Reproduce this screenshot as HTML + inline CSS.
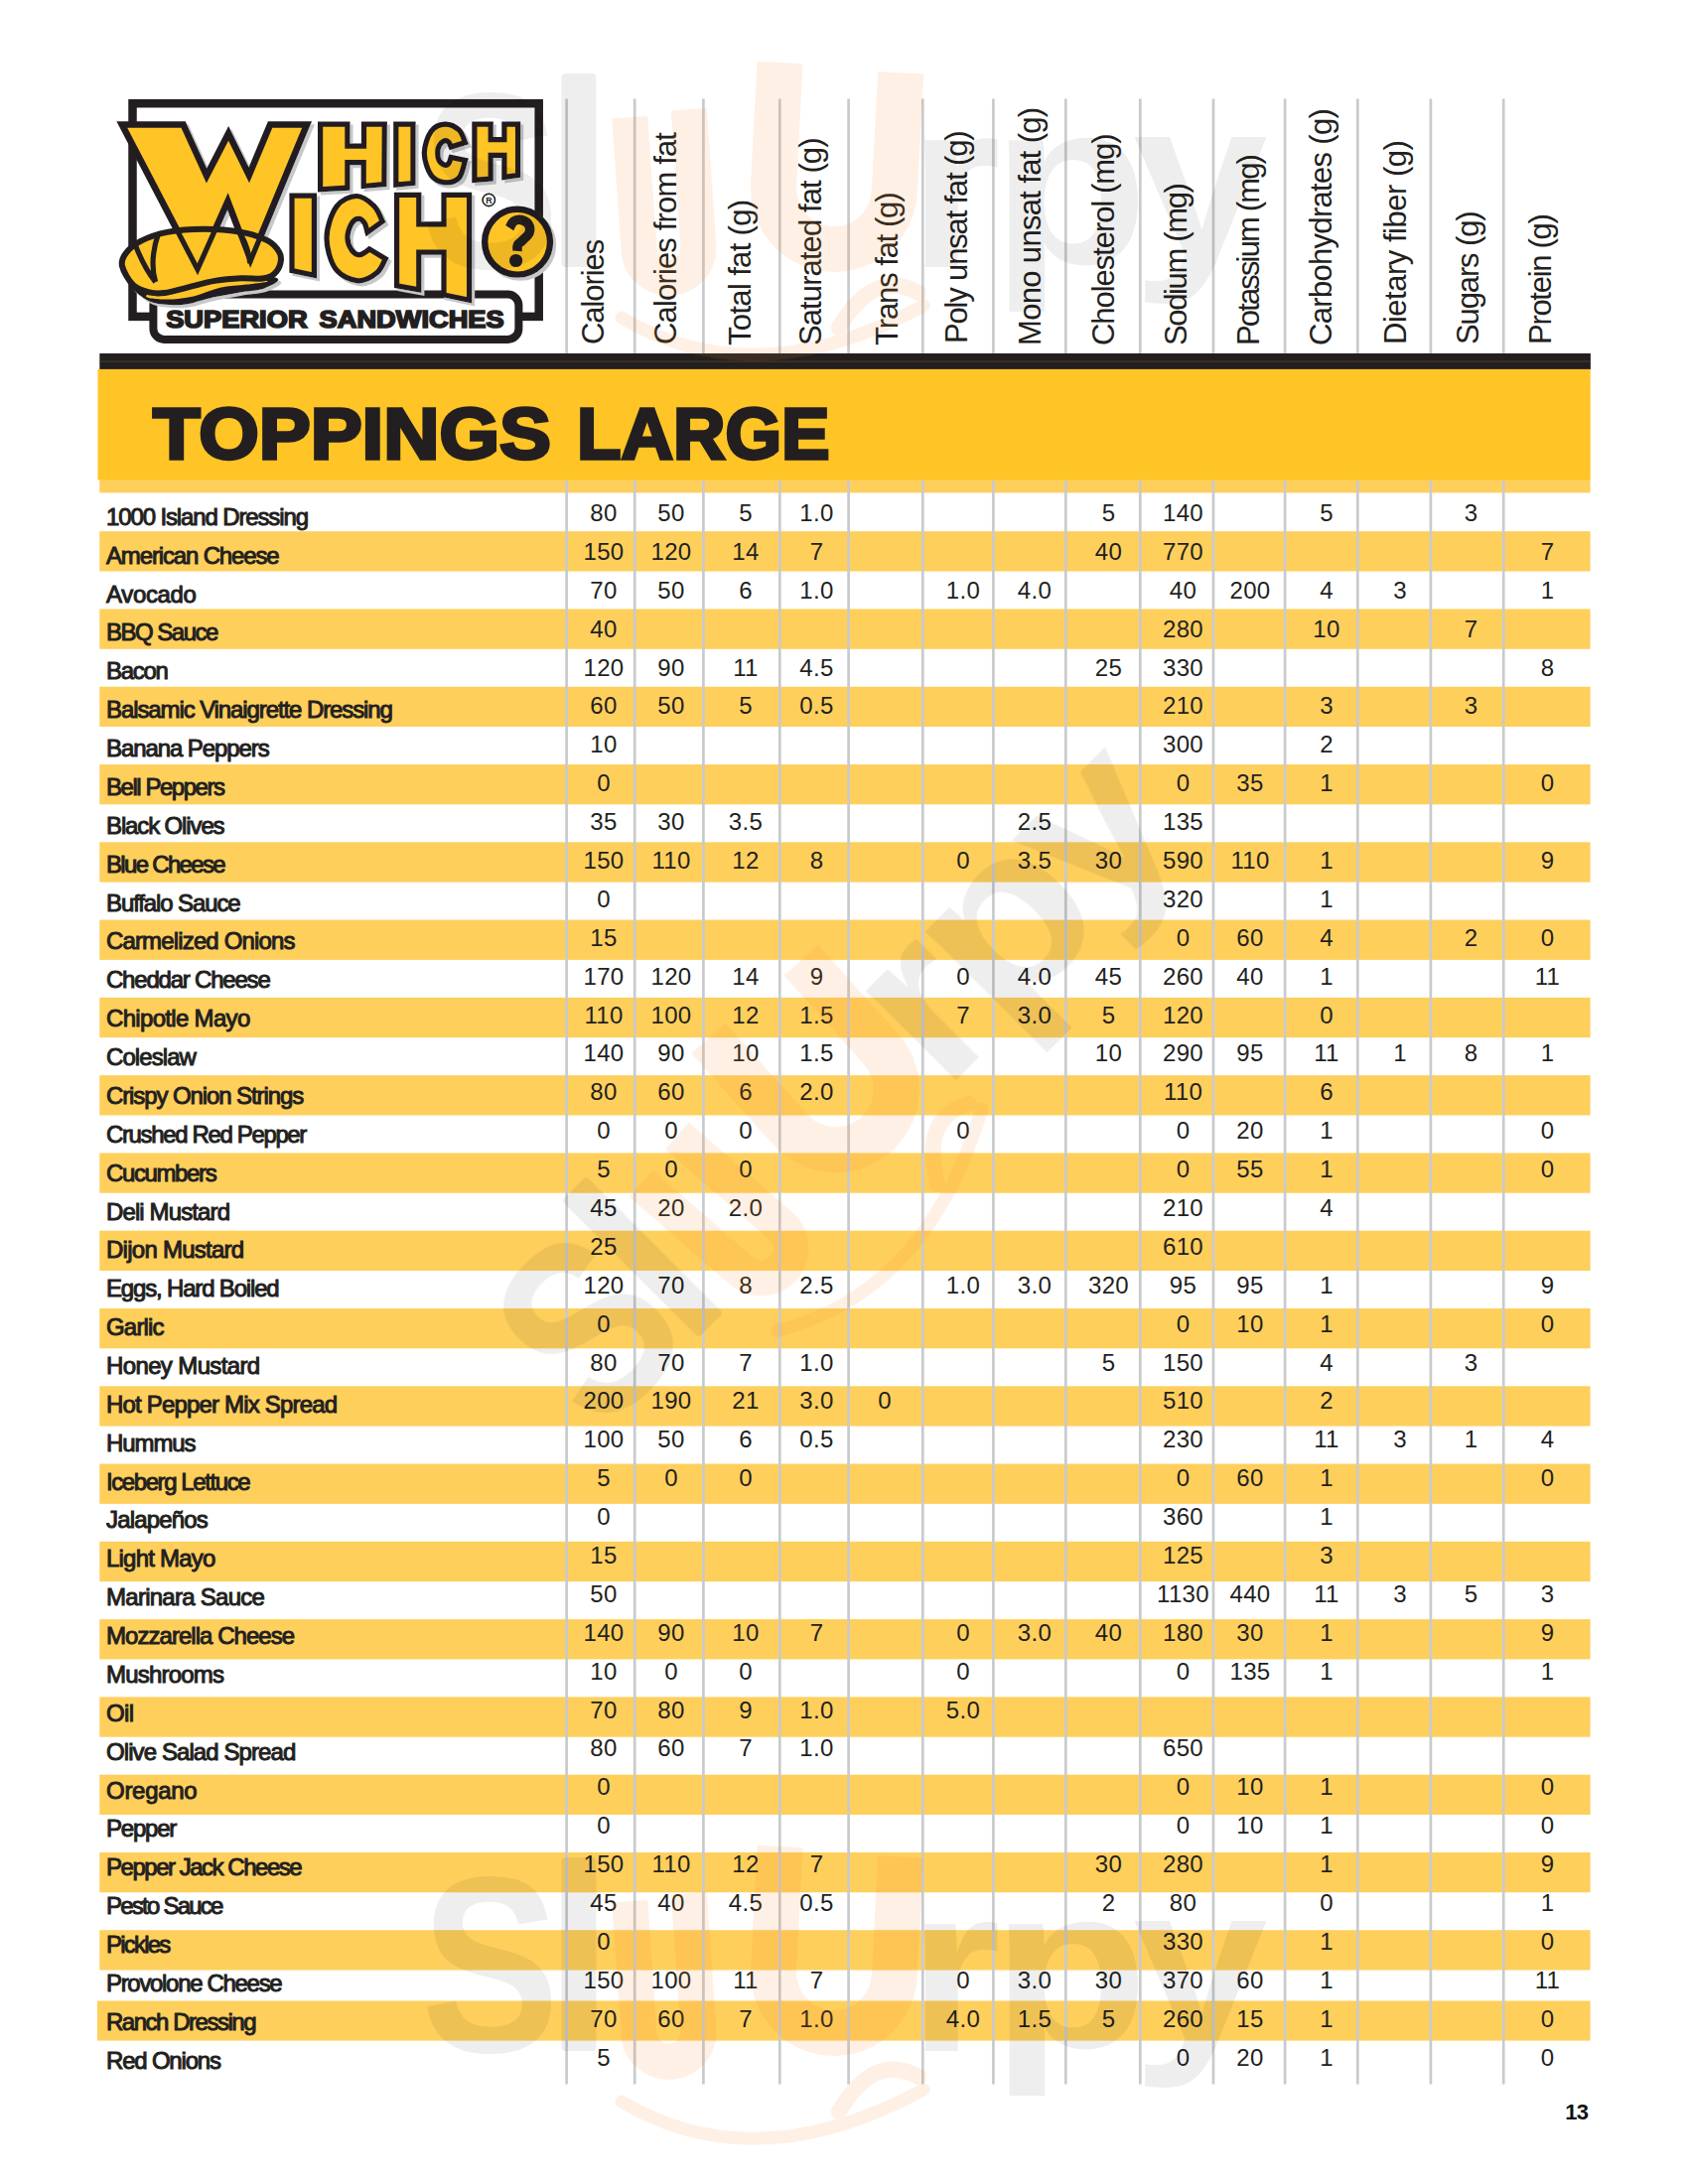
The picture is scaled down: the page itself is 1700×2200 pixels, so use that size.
<!DOCTYPE html><html><head><meta charset='utf-8'><title>Toppings Large</title><style>
html,body{margin:0;padding:0;background:#fff}
body{width:1700px;height:2200px;position:relative;overflow:hidden;font-family:'Liberation Sans',sans-serif;color:#231f20}
.a{position:absolute}
.b{position:absolute;background:#ffcf5c;left:100.3px;width:1501.2px;height:40.3px}
.l{position:absolute;background:#c9cacc;width:3px;top:99.6px;height:1999.9px}
.n{position:absolute;left:107px;white-space:nowrap;font-size:24px;line-height:30px;height:30px;-webkit-text-stroke:1px #231f20}
.v{position:absolute;white-space:nowrap;font-size:24px;line-height:30px;height:30px;width:80px;text-align:center;letter-spacing:0.3px}
.h{position:absolute;white-space:nowrap;font-size:31px;line-height:30px;height:30px;transform-origin:0 0;transform:rotate(-90deg)}
</style></head><body>
<svg class=a style='left:0;top:0' width='1700' height='2200' viewBox='0 0 1700 2200'>
<g fill='#ffcf5c'>
<rect x='100.3' y='535.20' width='1501.3' height='40.3'/>
<rect x='100.3' y='613.48' width='1501.3' height='40.3'/>
<rect x='100.3' y='691.76' width='1501.3' height='40.3'/>
<rect x='100.3' y='770.04' width='1501.3' height='40.3'/>
<rect x='100.3' y='848.32' width='1501.3' height='40.3'/>
<rect x='100.3' y='926.60' width='1501.3' height='40.3'/>
<rect x='100.3' y='1004.88' width='1501.3' height='40.3'/>
<rect x='100.3' y='1083.16' width='1501.3' height='40.3'/>
<rect x='100.3' y='1161.44' width='1501.3' height='40.3'/>
<rect x='100.3' y='1239.72' width='1501.3' height='40.3'/>
<rect x='100.3' y='1318.00' width='1501.3' height='40.3'/>
<rect x='100.3' y='1396.28' width='1501.3' height='40.3'/>
<rect x='100.3' y='1474.56' width='1501.3' height='40.3'/>
<rect x='100.3' y='1552.84' width='1501.3' height='40.3'/>
<rect x='100.3' y='1631.12' width='1501.3' height='40.3'/>
<rect x='100.3' y='1709.40' width='1501.3' height='40.3'/>
<rect x='100.3' y='1787.68' width='1501.3' height='40.3'/>
<rect x='100.3' y='1865.96' width='1501.3' height='40.3'/>
<rect x='100.3' y='1944.24' width='1501.3' height='40.3'/>
<rect x='97.9' y='2015.5' width='1503.7' height='40.1'/>
<rect x='100.3' y='483' width='1501.3' height='13.4'/>
</g>
<g stroke='#c9cacc' stroke-width='2.7'>
<line x1='570.6' y1='99.6' x2='570.6' y2='2099.5'/>
<line x1='639.2' y1='99.6' x2='639.2' y2='2099.5'/>
<line x1='708.4' y1='99.6' x2='708.4' y2='2099.5'/>
<line x1='785.3' y1='99.6' x2='785.3' y2='2099.5'/>
<line x1='854.6' y1='99.6' x2='854.6' y2='2099.5'/>
<line x1='929.3' y1='99.6' x2='929.3' y2='2099.5'/>
<line x1='1000.4' y1='99.6' x2='1000.4' y2='2099.5'/>
<line x1='1073.3' y1='99.6' x2='1073.3' y2='2099.5'/>
<line x1='1148.3' y1='99.6' x2='1148.3' y2='2099.5'/>
<line x1='1222.0' y1='99.6' x2='1222.0' y2='2099.5'/>
<line x1='1294.1' y1='99.6' x2='1294.1' y2='2099.5'/>
<line x1='1367.3' y1='99.6' x2='1367.3' y2='2099.5'/>
<line x1='1440.9' y1='99.6' x2='1440.9' y2='2099.5'/>
<line x1='1514.2' y1='99.6' x2='1514.2' y2='2099.5'/>
</g>
<rect x='100.3' y='356' width='1501.6' height='16.2' fill='#231f20'/>
<rect x='100.3' y='363.7' width='1501.6' height='0.8' fill='#5b4a2a'/>
<rect x='98.5' y='371.9' width='1503.2' height='111.5' fill='#ffc425'/>
</svg>
<div class=a style='left:153.8px;top:392.4px;font-weight:bold;font-size:73px;line-height:90px;height:90px;white-space:nowrap;transform-origin:0 0;-webkit-text-stroke:3.4px #231f20;transform:scaleX(1.0667)'>TOPPINGS</div>
<div class=a style='left:581.3px;top:392.4px;font-weight:bold;font-size:73px;line-height:90px;height:90px;white-space:nowrap;transform-origin:0 0;-webkit-text-stroke:3.4px #231f20;transform:scaleX(0.9962)'>LARGE</div>
<div class=h style='left:583.0px;top:346.6px;letter-spacing:-1.06px'>Calories</div>
<div class=h style='left:655.5px;top:347.4px;letter-spacing:-0.84px'>Calories from fat</div>
<div class=h style='left:731.2px;top:348.4px;letter-spacing:-0.66px'>Total fat (g)</div>
<div class=h style='left:802.3px;top:347.5px;letter-spacing:-0.91px'>Saturated fat (g)</div>
<div class=h style='left:878.7px;top:348.4px;letter-spacing:-1.09px'>Trans fat (g)</div>
<div class=h style='left:948.9px;top:346.1px;letter-spacing:-1.16px'>Poly unsat fat (g)</div>
<div class=h style='left:1022.7px;top:347.5px;letter-spacing:-0.67px'>Mono unsat fat (g)</div>
<div class=h style='left:1096.5px;top:347.5px;letter-spacing:-1.04px'>Cholesterol (mg)</div>
<div class=h style='left:1170.2px;top:347.5px;letter-spacing:-1.36px'>Sodium (mg)</div>
<div class=h style='left:1243.1px;top:347.5px;letter-spacing:-1.86px'>Potassium (mg)</div>
<div class=h style='left:1316.4px;top:347.5px;letter-spacing:-0.69px'>Carbohydrates (g)</div>
<div class=h style='left:1391.1px;top:346.9px;letter-spacing:-0.48px'>Dietary fiber (g)</div>
<div class=h style='left:1463.6px;top:346.6px;letter-spacing:-1.12px'>Sugars (g)</div>
<div class=h style='left:1536.7px;top:346.6px;letter-spacing:-1.29px'>Protein (g)</div>
<div class=n style='top:505.8px;letter-spacing:-1.13px'>1000 Island Dressing</div>
<div class=v style='left:568.0px;top:501.9px'>80</div>
<div class=v style='left:636.0px;top:501.9px'>50</div>
<div class=v style='left:711.0px;top:501.9px'>5</div>
<div class=v style='left:782.5px;top:501.9px'>1.0</div>
<div class=v style='left:1076.5px;top:501.9px'>5</div>
<div class=v style='left:1151.5px;top:501.9px'>140</div>
<div class=v style='left:1296.0px;top:501.9px'>5</div>
<div class=v style='left:1441.5px;top:501.9px'>3</div>
<div class=n style='top:544.7px;letter-spacing:-1.15px'>American Cheese</div>
<div class=v style='left:568.0px;top:540.8px'>150</div>
<div class=v style='left:636.0px;top:540.8px'>120</div>
<div class=v style='left:711.0px;top:540.8px'>14</div>
<div class=v style='left:782.5px;top:540.8px'>7</div>
<div class=v style='left:1076.5px;top:540.8px'>40</div>
<div class=v style='left:1151.5px;top:540.8px'>770</div>
<div class=v style='left:1518.5px;top:540.8px'>7</div>
<div class=n style='top:583.5px;letter-spacing:-0.34px'>Avocado</div>
<div class=v style='left:568.0px;top:579.7px'>70</div>
<div class=v style='left:636.0px;top:579.7px'>50</div>
<div class=v style='left:711.0px;top:579.7px'>6</div>
<div class=v style='left:782.5px;top:579.7px'>1.0</div>
<div class=v style='left:930.0px;top:579.7px'>1.0</div>
<div class=v style='left:1002.0px;top:579.7px'>4.0</div>
<div class=v style='left:1151.5px;top:579.7px'>40</div>
<div class=v style='left:1219.0px;top:579.7px'>200</div>
<div class=v style='left:1296.0px;top:579.7px'>4</div>
<div class=v style='left:1370.0px;top:579.7px'>3</div>
<div class=v style='left:1518.5px;top:579.7px'>1</div>
<div class=n style='top:622.4px;letter-spacing:-1.51px'>BBQ Sauce</div>
<div class=v style='left:568.0px;top:618.6px'>40</div>
<div class=v style='left:1151.5px;top:618.6px'>280</div>
<div class=v style='left:1296.0px;top:618.6px'>10</div>
<div class=v style='left:1441.5px;top:618.6px'>7</div>
<div class=n style='top:661.3px;letter-spacing:-1.29px'>Bacon</div>
<div class=v style='left:568.0px;top:657.5px'>120</div>
<div class=v style='left:636.0px;top:657.5px'>90</div>
<div class=v style='left:711.0px;top:657.5px'>11</div>
<div class=v style='left:782.5px;top:657.5px'>4.5</div>
<div class=v style='left:1076.5px;top:657.5px'>25</div>
<div class=v style='left:1151.5px;top:657.5px'>330</div>
<div class=v style='left:1518.5px;top:657.5px'>8</div>
<div class=n style='top:700.2px;letter-spacing:-1.10px'>Balsamic Vinaigrette Dressing</div>
<div class=v style='left:568.0px;top:696.4px'>60</div>
<div class=v style='left:636.0px;top:696.4px'>50</div>
<div class=v style='left:711.0px;top:696.4px'>5</div>
<div class=v style='left:782.5px;top:696.4px'>0.5</div>
<div class=v style='left:1151.5px;top:696.4px'>210</div>
<div class=v style='left:1296.0px;top:696.4px'>3</div>
<div class=v style='left:1441.5px;top:696.4px'>3</div>
<div class=n style='top:739.0px;letter-spacing:-1.09px'>Banana Peppers</div>
<div class=v style='left:568.0px;top:735.2px'>10</div>
<div class=v style='left:1151.5px;top:735.2px'>300</div>
<div class=v style='left:1296.0px;top:735.2px'>2</div>
<div class=n style='top:777.9px;letter-spacing:-1.46px'>Bell Peppers</div>
<div class=v style='left:568.0px;top:774.1px'>0</div>
<div class=v style='left:1151.5px;top:774.1px'>0</div>
<div class=v style='left:1219.0px;top:774.1px'>35</div>
<div class=v style='left:1296.0px;top:774.1px'>1</div>
<div class=v style='left:1518.5px;top:774.1px'>0</div>
<div class=n style='top:816.8px;letter-spacing:-1.13px'>Black Olives</div>
<div class=v style='left:568.0px;top:813.0px'>35</div>
<div class=v style='left:636.0px;top:813.0px'>30</div>
<div class=v style='left:711.0px;top:813.0px'>3.5</div>
<div class=v style='left:1002.0px;top:813.0px'>2.5</div>
<div class=v style='left:1151.5px;top:813.0px'>135</div>
<div class=n style='top:855.6px;letter-spacing:-1.68px'>Blue Cheese</div>
<div class=v style='left:568.0px;top:851.9px'>150</div>
<div class=v style='left:636.0px;top:851.9px'>110</div>
<div class=v style='left:711.0px;top:851.9px'>12</div>
<div class=v style='left:782.5px;top:851.9px'>8</div>
<div class=v style='left:930.0px;top:851.9px'>0</div>
<div class=v style='left:1002.0px;top:851.9px'>3.5</div>
<div class=v style='left:1076.5px;top:851.9px'>30</div>
<div class=v style='left:1151.5px;top:851.9px'>590</div>
<div class=v style='left:1219.0px;top:851.9px'>110</div>
<div class=v style='left:1296.0px;top:851.9px'>1</div>
<div class=v style='left:1518.5px;top:851.9px'>9</div>
<div class=n style='top:894.5px;letter-spacing:-1.11px'>Buffalo Sauce</div>
<div class=v style='left:568.0px;top:890.8px'>0</div>
<div class=v style='left:1151.5px;top:890.8px'>320</div>
<div class=v style='left:1296.0px;top:890.8px'>1</div>
<div class=n style='top:933.4px;letter-spacing:-0.85px'>Carmelized Onions</div>
<div class=v style='left:568.0px;top:929.7px'>15</div>
<div class=v style='left:1151.5px;top:929.7px'>0</div>
<div class=v style='left:1219.0px;top:929.7px'>60</div>
<div class=v style='left:1296.0px;top:929.7px'>4</div>
<div class=v style='left:1441.5px;top:929.7px'>2</div>
<div class=v style='left:1518.5px;top:929.7px'>0</div>
<div class=n style='top:972.2px;letter-spacing:-1.21px'>Cheddar Cheese</div>
<div class=v style='left:568.0px;top:968.6px'>170</div>
<div class=v style='left:636.0px;top:968.6px'>120</div>
<div class=v style='left:711.0px;top:968.6px'>14</div>
<div class=v style='left:782.5px;top:968.6px'>9</div>
<div class=v style='left:930.0px;top:968.6px'>0</div>
<div class=v style='left:1002.0px;top:968.6px'>4.0</div>
<div class=v style='left:1076.5px;top:968.6px'>45</div>
<div class=v style='left:1151.5px;top:968.6px'>260</div>
<div class=v style='left:1219.0px;top:968.6px'>40</div>
<div class=v style='left:1296.0px;top:968.6px'>1</div>
<div class=v style='left:1518.5px;top:968.6px'>11</div>
<div class=n style='top:1011.1px;letter-spacing:-0.68px'>Chipotle Mayo</div>
<div class=v style='left:568.0px;top:1007.5px'>110</div>
<div class=v style='left:636.0px;top:1007.5px'>100</div>
<div class=v style='left:711.0px;top:1007.5px'>12</div>
<div class=v style='left:782.5px;top:1007.5px'>1.5</div>
<div class=v style='left:930.0px;top:1007.5px'>7</div>
<div class=v style='left:1002.0px;top:1007.5px'>3.0</div>
<div class=v style='left:1076.5px;top:1007.5px'>5</div>
<div class=v style='left:1151.5px;top:1007.5px'>120</div>
<div class=v style='left:1296.0px;top:1007.5px'>0</div>
<div class=n style='top:1050.0px;letter-spacing:-0.92px'>Coleslaw</div>
<div class=v style='left:568.0px;top:1046.4px'>140</div>
<div class=v style='left:636.0px;top:1046.4px'>90</div>
<div class=v style='left:711.0px;top:1046.4px'>10</div>
<div class=v style='left:782.5px;top:1046.4px'>1.5</div>
<div class=v style='left:1076.5px;top:1046.4px'>10</div>
<div class=v style='left:1151.5px;top:1046.4px'>290</div>
<div class=v style='left:1219.0px;top:1046.4px'>95</div>
<div class=v style='left:1296.0px;top:1046.4px'>11</div>
<div class=v style='left:1370.0px;top:1046.4px'>1</div>
<div class=v style='left:1441.5px;top:1046.4px'>8</div>
<div class=v style='left:1518.5px;top:1046.4px'>1</div>
<div class=n style='top:1088.9px;letter-spacing:-1.10px'>Crispy Onion Strings</div>
<div class=v style='left:568.0px;top:1085.3px'>80</div>
<div class=v style='left:636.0px;top:1085.3px'>60</div>
<div class=v style='left:711.0px;top:1085.3px'>6</div>
<div class=v style='left:782.5px;top:1085.3px'>2.0</div>
<div class=v style='left:1151.5px;top:1085.3px'>110</div>
<div class=v style='left:1296.0px;top:1085.3px'>6</div>
<div class=n style='top:1127.7px;letter-spacing:-1.36px'>Crushed Red Pepper</div>
<div class=v style='left:568.0px;top:1124.1px'>0</div>
<div class=v style='left:636.0px;top:1124.1px'>0</div>
<div class=v style='left:711.0px;top:1124.1px'>0</div>
<div class=v style='left:930.0px;top:1124.1px'>0</div>
<div class=v style='left:1151.5px;top:1124.1px'>0</div>
<div class=v style='left:1219.0px;top:1124.1px'>20</div>
<div class=v style='left:1296.0px;top:1124.1px'>1</div>
<div class=v style='left:1518.5px;top:1124.1px'>0</div>
<div class=n style='top:1166.6px;letter-spacing:-1.38px'>Cucumbers</div>
<div class=v style='left:568.0px;top:1163.0px'>5</div>
<div class=v style='left:636.0px;top:1163.0px'>0</div>
<div class=v style='left:711.0px;top:1163.0px'>0</div>
<div class=v style='left:1151.5px;top:1163.0px'>0</div>
<div class=v style='left:1219.0px;top:1163.0px'>55</div>
<div class=v style='left:1296.0px;top:1163.0px'>1</div>
<div class=v style='left:1518.5px;top:1163.0px'>0</div>
<div class=n style='top:1205.5px;letter-spacing:-0.88px'>Deli Mustard</div>
<div class=v style='left:568.0px;top:1201.9px'>45</div>
<div class=v style='left:636.0px;top:1201.9px'>20</div>
<div class=v style='left:711.0px;top:1201.9px'>2.0</div>
<div class=v style='left:1151.5px;top:1201.9px'>210</div>
<div class=v style='left:1296.0px;top:1201.9px'>4</div>
<div class=n style='top:1244.3px;letter-spacing:-0.74px'>Dijon Mustard</div>
<div class=v style='left:568.0px;top:1240.8px'>25</div>
<div class=v style='left:1151.5px;top:1240.8px'>610</div>
<div class=n style='top:1283.2px;letter-spacing:-1.17px'>Eggs, Hard Boiled</div>
<div class=v style='left:568.0px;top:1279.7px'>120</div>
<div class=v style='left:636.0px;top:1279.7px'>70</div>
<div class=v style='left:711.0px;top:1279.7px'>8</div>
<div class=v style='left:782.5px;top:1279.7px'>2.5</div>
<div class=v style='left:930.0px;top:1279.7px'>1.0</div>
<div class=v style='left:1002.0px;top:1279.7px'>3.0</div>
<div class=v style='left:1076.5px;top:1279.7px'>320</div>
<div class=v style='left:1151.5px;top:1279.7px'>95</div>
<div class=v style='left:1219.0px;top:1279.7px'>95</div>
<div class=v style='left:1296.0px;top:1279.7px'>1</div>
<div class=v style='left:1518.5px;top:1279.7px'>9</div>
<div class=n style='top:1322.1px;letter-spacing:-0.81px'>Garlic</div>
<div class=v style='left:568.0px;top:1318.6px'>0</div>
<div class=v style='left:1151.5px;top:1318.6px'>0</div>
<div class=v style='left:1219.0px;top:1318.6px'>10</div>
<div class=v style='left:1296.0px;top:1318.6px'>1</div>
<div class=v style='left:1518.5px;top:1318.6px'>0</div>
<div class=n style='top:1360.9px;letter-spacing:-0.63px'>Honey Mustard</div>
<div class=v style='left:568.0px;top:1357.5px'>80</div>
<div class=v style='left:636.0px;top:1357.5px'>70</div>
<div class=v style='left:711.0px;top:1357.5px'>7</div>
<div class=v style='left:782.5px;top:1357.5px'>1.0</div>
<div class=v style='left:1076.5px;top:1357.5px'>5</div>
<div class=v style='left:1151.5px;top:1357.5px'>150</div>
<div class=v style='left:1296.0px;top:1357.5px'>4</div>
<div class=v style='left:1441.5px;top:1357.5px'>3</div>
<div class=n style='top:1399.8px;letter-spacing:-0.82px'>Hot Pepper Mix Spread</div>
<div class=v style='left:568.0px;top:1396.4px'>200</div>
<div class=v style='left:636.0px;top:1396.4px'>190</div>
<div class=v style='left:711.0px;top:1396.4px'>21</div>
<div class=v style='left:782.5px;top:1396.4px'>3.0</div>
<div class=v style='left:851.0px;top:1396.4px'>0</div>
<div class=v style='left:1151.5px;top:1396.4px'>510</div>
<div class=v style='left:1296.0px;top:1396.4px'>2</div>
<div class=n style='top:1438.7px;letter-spacing:-1.09px'>Hummus</div>
<div class=v style='left:568.0px;top:1435.3px'>100</div>
<div class=v style='left:636.0px;top:1435.3px'>50</div>
<div class=v style='left:711.0px;top:1435.3px'>6</div>
<div class=v style='left:782.5px;top:1435.3px'>0.5</div>
<div class=v style='left:1151.5px;top:1435.3px'>230</div>
<div class=v style='left:1296.0px;top:1435.3px'>11</div>
<div class=v style='left:1370.0px;top:1435.3px'>3</div>
<div class=v style='left:1441.5px;top:1435.3px'>1</div>
<div class=v style='left:1518.5px;top:1435.3px'>4</div>
<div class=n style='top:1477.5px;letter-spacing:-1.42px'>Iceberg Lettuce</div>
<div class=v style='left:568.0px;top:1474.2px'>5</div>
<div class=v style='left:636.0px;top:1474.2px'>0</div>
<div class=v style='left:711.0px;top:1474.2px'>0</div>
<div class=v style='left:1151.5px;top:1474.2px'>0</div>
<div class=v style='left:1219.0px;top:1474.2px'>60</div>
<div class=v style='left:1296.0px;top:1474.2px'>1</div>
<div class=v style='left:1518.5px;top:1474.2px'>0</div>
<div class=n style='top:1516.4px;letter-spacing:-0.82px'>Jalapeños</div>
<div class=v style='left:568.0px;top:1513.0px'>0</div>
<div class=v style='left:1151.5px;top:1513.0px'>360</div>
<div class=v style='left:1296.0px;top:1513.0px'>1</div>
<div class=n style='top:1555.3px;letter-spacing:-0.78px'>Light Mayo</div>
<div class=v style='left:568.0px;top:1551.9px'>15</div>
<div class=v style='left:1151.5px;top:1551.9px'>125</div>
<div class=v style='left:1296.0px;top:1551.9px'>3</div>
<div class=n style='top:1594.2px;letter-spacing:-0.73px'>Marinara Sauce</div>
<div class=v style='left:568.0px;top:1590.8px'>50</div>
<div class=v style='left:1151.5px;top:1590.8px'>1130</div>
<div class=v style='left:1219.0px;top:1590.8px'>440</div>
<div class=v style='left:1296.0px;top:1590.8px'>11</div>
<div class=v style='left:1370.0px;top:1590.8px'>3</div>
<div class=v style='left:1441.5px;top:1590.8px'>5</div>
<div class=v style='left:1518.5px;top:1590.8px'>3</div>
<div class=n style='top:1633.0px;letter-spacing:-0.96px'>Mozzarella Cheese</div>
<div class=v style='left:568.0px;top:1629.7px'>140</div>
<div class=v style='left:636.0px;top:1629.7px'>90</div>
<div class=v style='left:711.0px;top:1629.7px'>10</div>
<div class=v style='left:782.5px;top:1629.7px'>7</div>
<div class=v style='left:930.0px;top:1629.7px'>0</div>
<div class=v style='left:1002.0px;top:1629.7px'>3.0</div>
<div class=v style='left:1076.5px;top:1629.7px'>40</div>
<div class=v style='left:1151.5px;top:1629.7px'>180</div>
<div class=v style='left:1219.0px;top:1629.7px'>30</div>
<div class=v style='left:1296.0px;top:1629.7px'>1</div>
<div class=v style='left:1518.5px;top:1629.7px'>9</div>
<div class=n style='top:1671.9px;letter-spacing:-0.81px'>Mushrooms</div>
<div class=v style='left:568.0px;top:1668.6px'>10</div>
<div class=v style='left:636.0px;top:1668.6px'>0</div>
<div class=v style='left:711.0px;top:1668.6px'>0</div>
<div class=v style='left:930.0px;top:1668.6px'>0</div>
<div class=v style='left:1151.5px;top:1668.6px'>0</div>
<div class=v style='left:1219.0px;top:1668.6px'>135</div>
<div class=v style='left:1296.0px;top:1668.6px'>1</div>
<div class=v style='left:1518.5px;top:1668.6px'>1</div>
<div class=n style='top:1710.8px;letter-spacing:-0.61px'>Oil</div>
<div class=v style='left:568.0px;top:1707.5px'>70</div>
<div class=v style='left:636.0px;top:1707.5px'>80</div>
<div class=v style='left:711.0px;top:1707.5px'>9</div>
<div class=v style='left:782.5px;top:1707.5px'>1.0</div>
<div class=v style='left:930.0px;top:1707.5px'>5.0</div>
<div class=n style='top:1749.6px;letter-spacing:-0.91px'>Olive Salad Spread</div>
<div class=v style='left:568.0px;top:1746.4px'>80</div>
<div class=v style='left:636.0px;top:1746.4px'>60</div>
<div class=v style='left:711.0px;top:1746.4px'>7</div>
<div class=v style='left:782.5px;top:1746.4px'>1.0</div>
<div class=v style='left:1151.5px;top:1746.4px'>650</div>
<div class=n style='top:1788.5px;letter-spacing:-0.29px'>Oregano</div>
<div class=v style='left:568.0px;top:1785.3px'>0</div>
<div class=v style='left:1151.5px;top:1785.3px'>0</div>
<div class=v style='left:1219.0px;top:1785.3px'>10</div>
<div class=v style='left:1296.0px;top:1785.3px'>1</div>
<div class=v style='left:1518.5px;top:1785.3px'>0</div>
<div class=n style='top:1827.4px;letter-spacing:-1.22px'>Pepper</div>
<div class=v style='left:568.0px;top:1824.2px'>0</div>
<div class=v style='left:1151.5px;top:1824.2px'>0</div>
<div class=v style='left:1219.0px;top:1824.2px'>10</div>
<div class=v style='left:1296.0px;top:1824.2px'>1</div>
<div class=v style='left:1518.5px;top:1824.2px'>0</div>
<div class=n style='top:1866.2px;letter-spacing:-1.48px'>Pepper Jack Cheese</div>
<div class=v style='left:568.0px;top:1863.1px'>150</div>
<div class=v style='left:636.0px;top:1863.1px'>110</div>
<div class=v style='left:711.0px;top:1863.1px'>12</div>
<div class=v style='left:782.5px;top:1863.1px'>7</div>
<div class=v style='left:1076.5px;top:1863.1px'>30</div>
<div class=v style='left:1151.5px;top:1863.1px'>280</div>
<div class=v style='left:1296.0px;top:1863.1px'>1</div>
<div class=v style='left:1518.5px;top:1863.1px'>9</div>
<div class=n style='top:1905.1px;letter-spacing:-1.77px'>Pesto Sauce</div>
<div class=v style='left:568.0px;top:1901.9px'>45</div>
<div class=v style='left:636.0px;top:1901.9px'>40</div>
<div class=v style='left:711.0px;top:1901.9px'>4.5</div>
<div class=v style='left:782.5px;top:1901.9px'>0.5</div>
<div class=v style='left:1076.5px;top:1901.9px'>2</div>
<div class=v style='left:1151.5px;top:1901.9px'>80</div>
<div class=v style='left:1296.0px;top:1901.9px'>0</div>
<div class=v style='left:1518.5px;top:1901.9px'>1</div>
<div class=n style='top:1944.0px;letter-spacing:-1.79px'>Pickles</div>
<div class=v style='left:568.0px;top:1940.8px'>0</div>
<div class=v style='left:1151.5px;top:1940.8px'>330</div>
<div class=v style='left:1296.0px;top:1940.8px'>1</div>
<div class=v style='left:1518.5px;top:1940.8px'>0</div>
<div class=n style='top:1982.9px;letter-spacing:-1.32px'>Provolone Cheese</div>
<div class=v style='left:568.0px;top:1979.7px'>150</div>
<div class=v style='left:636.0px;top:1979.7px'>100</div>
<div class=v style='left:711.0px;top:1979.7px'>11</div>
<div class=v style='left:782.5px;top:1979.7px'>7</div>
<div class=v style='left:930.0px;top:1979.7px'>0</div>
<div class=v style='left:1002.0px;top:1979.7px'>3.0</div>
<div class=v style='left:1076.5px;top:1979.7px'>30</div>
<div class=v style='left:1151.5px;top:1979.7px'>370</div>
<div class=v style='left:1219.0px;top:1979.7px'>60</div>
<div class=v style='left:1296.0px;top:1979.7px'>1</div>
<div class=v style='left:1518.5px;top:1979.7px'>11</div>
<div class=n style='top:2021.7px;letter-spacing:-1.48px'>Ranch Dressing</div>
<div class=v style='left:568.0px;top:2018.6px'>70</div>
<div class=v style='left:636.0px;top:2018.6px'>60</div>
<div class=v style='left:711.0px;top:2018.6px'>7</div>
<div class=v style='left:782.5px;top:2018.6px'>1.0</div>
<div class=v style='left:930.0px;top:2018.6px'>4.0</div>
<div class=v style='left:1002.0px;top:2018.6px'>1.5</div>
<div class=v style='left:1076.5px;top:2018.6px'>5</div>
<div class=v style='left:1151.5px;top:2018.6px'>260</div>
<div class=v style='left:1219.0px;top:2018.6px'>15</div>
<div class=v style='left:1296.0px;top:2018.6px'>1</div>
<div class=v style='left:1518.5px;top:2018.6px'>0</div>
<div class=n style='top:2060.6px;letter-spacing:-1.20px'>Red Onions</div>
<div class=v style='left:568.0px;top:2057.5px'>5</div>
<div class=v style='left:1151.5px;top:2057.5px'>0</div>
<div class=v style='left:1219.0px;top:2057.5px'>20</div>
<div class=v style='left:1296.0px;top:2057.5px'>1</div>
<div class=v style='left:1518.5px;top:2057.5px'>0</div>
<div class=a style='left:1520px;width:79.5px;text-align:right;top:2112.8px;font-weight:bold;font-size:22px;letter-spacing:-0.6px;line-height:30px;color:#111'>13</div>
<svg class=a style='left:100px;top:80px' width='480' height='280' viewBox='100 80 480 280'>
<defs><filter id='sh' x='-5%' y='-5%' width='115%' height='115%'><feOffset in='SourceAlpha' dx='3.2' dy='2.6' result='o'/><feFlood flood-color='#c7c8ca'/><feComposite in2='o' operator='in' result='s'/><feMerge><feMergeNode in='s'/><feMergeNode in='SourceGraphic'/></feMerge></filter></defs>
<rect x='133.5' y='104.2' width='409.2' height='214.7' fill='#fff' stroke='#231f20' stroke-width='8.5'/>
<rect x='154.4' y='296.6' width='368' height='45.3' rx='11' fill='#fff' stroke='#231f20' stroke-width='8'/>
<g filter='url(#sh)'>
<path d='M322.6,125.1 L349.9,125.1 L349.9,147.1 L366.5,147.1 L366.5,125.1 L387.3,125.1 L386.9,185.6 L366.2,187.5 L366.2,163.7 L349.9,163.7 L349.9,189.2 L322.6,190.8Z' fill='#ffc425' stroke='#231f20' stroke-width='5.2' stroke-linejoin='miter'/>
<path d='M398.8,125.1 L416.0,125.1 L416.0,184.5 L398.8,186.2Z' fill='#ffc425' stroke='#231f20' stroke-width='5.2' stroke-linejoin='miter'/>
<path d='M468.5,143.6 C467.5,141.5 465.7,133.9 462.3,130.9 C458.8,127.8 452.6,124.9 447.9,125.1 C443.3,125.3 437.7,127.3 434.2,132.2 C430.8,137.0 427.3,146.9 427.3,154.3 C427.3,161.7 430.8,171.6 434.2,176.5 C437.7,181.4 443.3,183.3 447.9,183.8 C452.6,184.2 458.8,182.8 462.3,179.1 C465.7,175.4 467.5,164.4 468.5,161.5 L454.2,158.5 C453.8,159.5 453.0,163.5 451.8,164.7 C450.7,166.0 448.9,166.6 447.3,166.0 C445.7,165.5 443.2,163.4 442.1,161.5 C441.0,159.5 440.8,156.7 440.8,154.3 C440.8,151.9 441.0,149.2 442.1,147.1 C443.2,145.1 445.7,142.6 447.3,141.9 C448.9,141.3 450.7,142.2 451.8,143.2 C453.0,144.3 453.8,147.3 454.2,148.1Z' fill='#ffc425' stroke='#231f20' stroke-width='5.2' stroke-linejoin='miter'/>
<path d='M477.9,125.1 L494.2,125.1 L494.2,140.6 L507.9,140.6 L507.9,125.1 L521.6,125.1 L521.6,176.5 L507.9,178.4 L507.9,156.3 L494.2,156.3 L494.2,180.0 L477.9,181.4Z' fill='#ffc425' stroke='#231f20' stroke-width='5.2' stroke-linejoin='miter'/>
<path d='M294.0,197.2 L316.4,197.2 L316.4,277.2 L294.0,272.6Z' fill='#ffc425' stroke='#231f20' stroke-width='5.2' stroke-linejoin='miter'/>
<path d='M385.2,223.0 C383.8,220.4 381.0,211.6 376.6,207.4 C372.3,203.2 365.2,197.4 358.9,197.5 C352.6,197.6 343.9,201.2 338.9,208.1 C333.9,215.1 329.1,228.8 329.0,239.2 C328.8,249.7 332.9,263.8 338.1,271.1 C343.4,278.3 353.4,282.2 360.4,282.8 C367.3,283.4 375.0,278.5 379.6,274.8 C384.2,271.1 386.8,263.1 388.2,260.7 L371.9,250.8 C371.2,251.3 369.6,253.1 367.8,254.1 C366.0,255.0 363.4,257.2 361.1,256.7 C358.8,256.2 355.5,254.0 353.7,251.1 C351.8,248.2 350.0,243.4 350.0,239.2 C350.0,235.0 352.0,229.1 353.7,225.9 C355.4,222.8 358.1,220.5 360.4,220.3 C362.6,220.0 365.4,222.1 367.0,224.4 C368.6,226.7 369.5,232.5 370.0,234.1Z' fill='#ffc425' stroke='#231f20' stroke-width='5.2' stroke-linejoin='miter'/>
<path d='M399.6,196.3 L421.8,196.3 L421.8,225.9 L447.0,225.9 L447.0,196.3 L472.6,196.3 L472.6,302.2 L447.0,297.0 L447.0,254.1 L421.8,254.1 L421.8,291.8 L399.6,287.8Z' fill='#ffc425' stroke='#231f20' stroke-width='5.2' stroke-linejoin='miter'/>
<circle cx='521.1' cy='243.7' r='32.9' fill='#ffc425' stroke='#231f20' stroke-width='6.4'/>
<path d='M122.8,125.5 L184.6,125.5 L208.1,177.0 L230.1,134.4 L250.8,176.4 L272.1,125.5 L309.1,125.5 L252.2,262.8 L229.4,203.0 L198.9,271.3Z' fill='#ffc425' stroke='#231f20' stroke-width='6.6' stroke-miterlimit='10'/>
<path d='M131.0,285.0 C129.4,289.9 142.2,298.7 148.1,302.3 C153.9,305.9 159.6,306.1 166.2,306.8 C172.8,307.5 180.0,307.4 187.5,306.4 C195.0,305.3 201.7,302.4 211.0,300.4 C220.2,298.4 233.7,296.0 243.0,294.3 C252.2,292.7 260.6,292.8 266.4,290.4 C272.3,287.9 285.6,282.6 278.1,279.7 C270.7,276.9 241.7,274.4 221.6,273.3 C201.6,272.2 172.8,271.4 157.7,273.3 C142.5,275.3 132.6,280.2 131.0,285.0Z' fill='#231f20'/>
</g>
<path d='M269.1,282.9 C273.5,284.1 256.2,285.5 248.3,286.6 C240.4,287.8 230.5,287.9 221.6,289.8 C212.7,291.8 203.9,296.4 195.0,298.4 C186.1,300.3 176.3,301.6 168.3,301.6 C160.3,301.6 147.0,300.4 147.0,298.4 C147.0,296.3 155.9,292.4 168.3,289.3 C180.8,286.2 204.8,280.8 221.6,279.7 C238.4,278.6 264.6,281.8 269.1,282.9Z' fill='#ffc425'/>
<path id='bread' d='M123.0,268.0 C121.8,262.7 123.6,259.4 126.7,255.2 C129.8,251.0 134.7,246.5 141.7,242.9 C148.6,239.4 157.7,235.9 168.3,233.9 C179.0,231.8 193.2,230.7 205.6,230.7 C218.1,230.7 232.3,231.9 243.0,233.9 C253.6,235.8 263.2,239.0 269.6,242.4 C276.0,245.8 279.2,250.3 281.3,254.1 C283.5,257.9 283.3,261.7 282.4,265.3 C281.5,269.0 279.0,273.4 276.0,276.0 C273.0,278.5 269.8,279.9 264.3,280.6 C258.8,281.3 251.0,279.9 243.0,280.2 C235.0,280.6 225.2,281.4 216.3,282.9 C207.4,284.4 198.0,287.3 189.6,289.3 C181.3,291.3 172.8,294.1 166.2,295.0 C159.6,295.8 155.5,295.7 150.2,294.4 C144.9,293.1 138.7,291.6 134.2,287.2 C129.7,282.8 124.2,273.3 123.0,268.0Z' fill='#ffc425' stroke='#231f20' stroke-width='6'/>
<clipPath id='bc'><path d='M123.0,268.0 C121.8,262.7 123.6,259.4 126.7,255.2 C129.8,251.0 134.7,246.5 141.7,242.9 C148.6,239.4 157.7,235.9 168.3,233.9 C179.0,231.8 193.2,230.7 205.6,230.7 C218.1,230.7 232.3,231.9 243.0,233.9 C253.6,235.8 263.2,239.0 269.6,242.4 C276.0,245.8 279.2,250.3 281.3,254.1 C283.5,257.9 283.3,261.7 282.4,265.3 C281.5,269.0 279.0,273.4 276.0,276.0 C273.0,278.5 269.8,279.9 264.3,280.6 C258.8,281.3 251.0,279.9 243.0,280.2 C235.0,280.6 225.2,281.4 216.3,282.9 C207.4,284.4 198.0,287.3 189.6,289.3 C181.3,291.3 172.8,294.1 166.2,295.0 C159.6,295.8 155.5,295.7 150.2,294.4 C144.9,293.1 138.7,291.6 134.2,287.2 C129.7,282.8 124.2,273.3 123.0,268.0Z'/></clipPath>
<g clip-path='url(#bc)' fill='none' stroke='#231f20' stroke-width='5.2' stroke-miterlimit='10'>
<path d='M122.8,125.5 L184.6,125.5 L208.1,177.0 L230.1,134.4 L250.8,176.4 L272.1,125.5 L309.1,125.5 L252.2,262.8 L229.4,203.0 L198.9,271.3Z'/>
<path d='M159.6,234.9 Q150.2,262.1 156.6,284.0'/>
<path d='M135.9,245.6 Q144.9,269.6 156.6,284.0'/>
<path d='M239.8,232.3 Q249.9,246.7 251.8,265.3'/>
</g>
<text x='167.2' y='330' textLength='142.4' font-family='Liberation Sans' font-weight='bold' font-size='24.6' fill='#231f20' stroke='#231f20' stroke-width='1.7' lengthAdjust='spacingAndGlyphs'>SUPERIOR</text>
<text x='321.6' y='330' textLength='186' font-family='Liberation Sans' font-weight='bold' font-size='24.6' fill='#231f20' stroke='#231f20' stroke-width='1.7' lengthAdjust='spacingAndGlyphs'>SANDWICHES</text>
<path d='M513.2,229.6 C513.9,228.5 515.4,224.3 517.3,223.0 C519.3,221.6 522.3,221.0 524.8,221.5 C527.2,222.0 530.8,223.7 532.2,225.9 C533.5,228.1 533.9,232.1 532.9,234.8 C531.9,237.5 528.1,240.2 526.2,242.2 C524.3,244.2 522.4,244.9 521.5,246.6 C520.6,248.4 521.1,251.8 521.0,252.9' fill='none' stroke='#231f20' stroke-width='9.5'/>
<circle cx='519.6' cy='262.5' r='6.6' fill='#231f20'/>
<circle cx='492.3' cy='201.4' r='6.2' fill='none' stroke='#231f20' stroke-width='1.6'/>
<text x='492.4' y='204.6' font-size='9' font-weight='bold' text-anchor='middle' fill='#231f20' font-family='Liberation Sans'>R</text>
</svg>
<svg class=a style='left:0;top:0;pointer-events:none' width='1700' height='2200' viewBox='0 0 1700 2200'>
<defs><g id='wm'>
<g opacity='0.068' fill='#000' font-family='Liberation Sans' font-weight='bold' font-size='100'>
<text transform='translate(423.9,269.5) scale(2.087,2.528)'>S</text>
<rect x='565.4' y='74' width='35' height='195' rx='4'/>
<text transform='translate(915.3,269) scale(2.386,2.421)'>r</text>
<text transform='translate(998.6,265.2) scale(2.585,2.346)'>p</text>
<text transform='translate(1140.6,258.7) scale(2.451,2.276)'>y</text>
</g>
<g opacity='0.12' fill='none' stroke='#f58220'>
<path d='M640,116 V250 A30,30 0 0 0 700,250 V112' stroke-width='36' transform='rotate(-4 670 200)'/>
<path d='M780,66 V190 A61,61 0 0 0 902,190 V70' stroke-width='46' transform='rotate(3 841 170)'/>
<path d='M626,320 Q760,400 930,308' stroke-width='13' stroke-linecap='round'/>
<path d='M845,330 Q880,270 925,295' stroke-width='16' stroke-linecap='round'/>
</g>
</g></defs>
<use href='#wm'/>
<use href='#wm' transform='translate(857,1092) rotate(-45) translate(-854.5,-197)'/>
<use href='#wm' transform='translate(0,1797)'/>
</svg>
</body></html>
